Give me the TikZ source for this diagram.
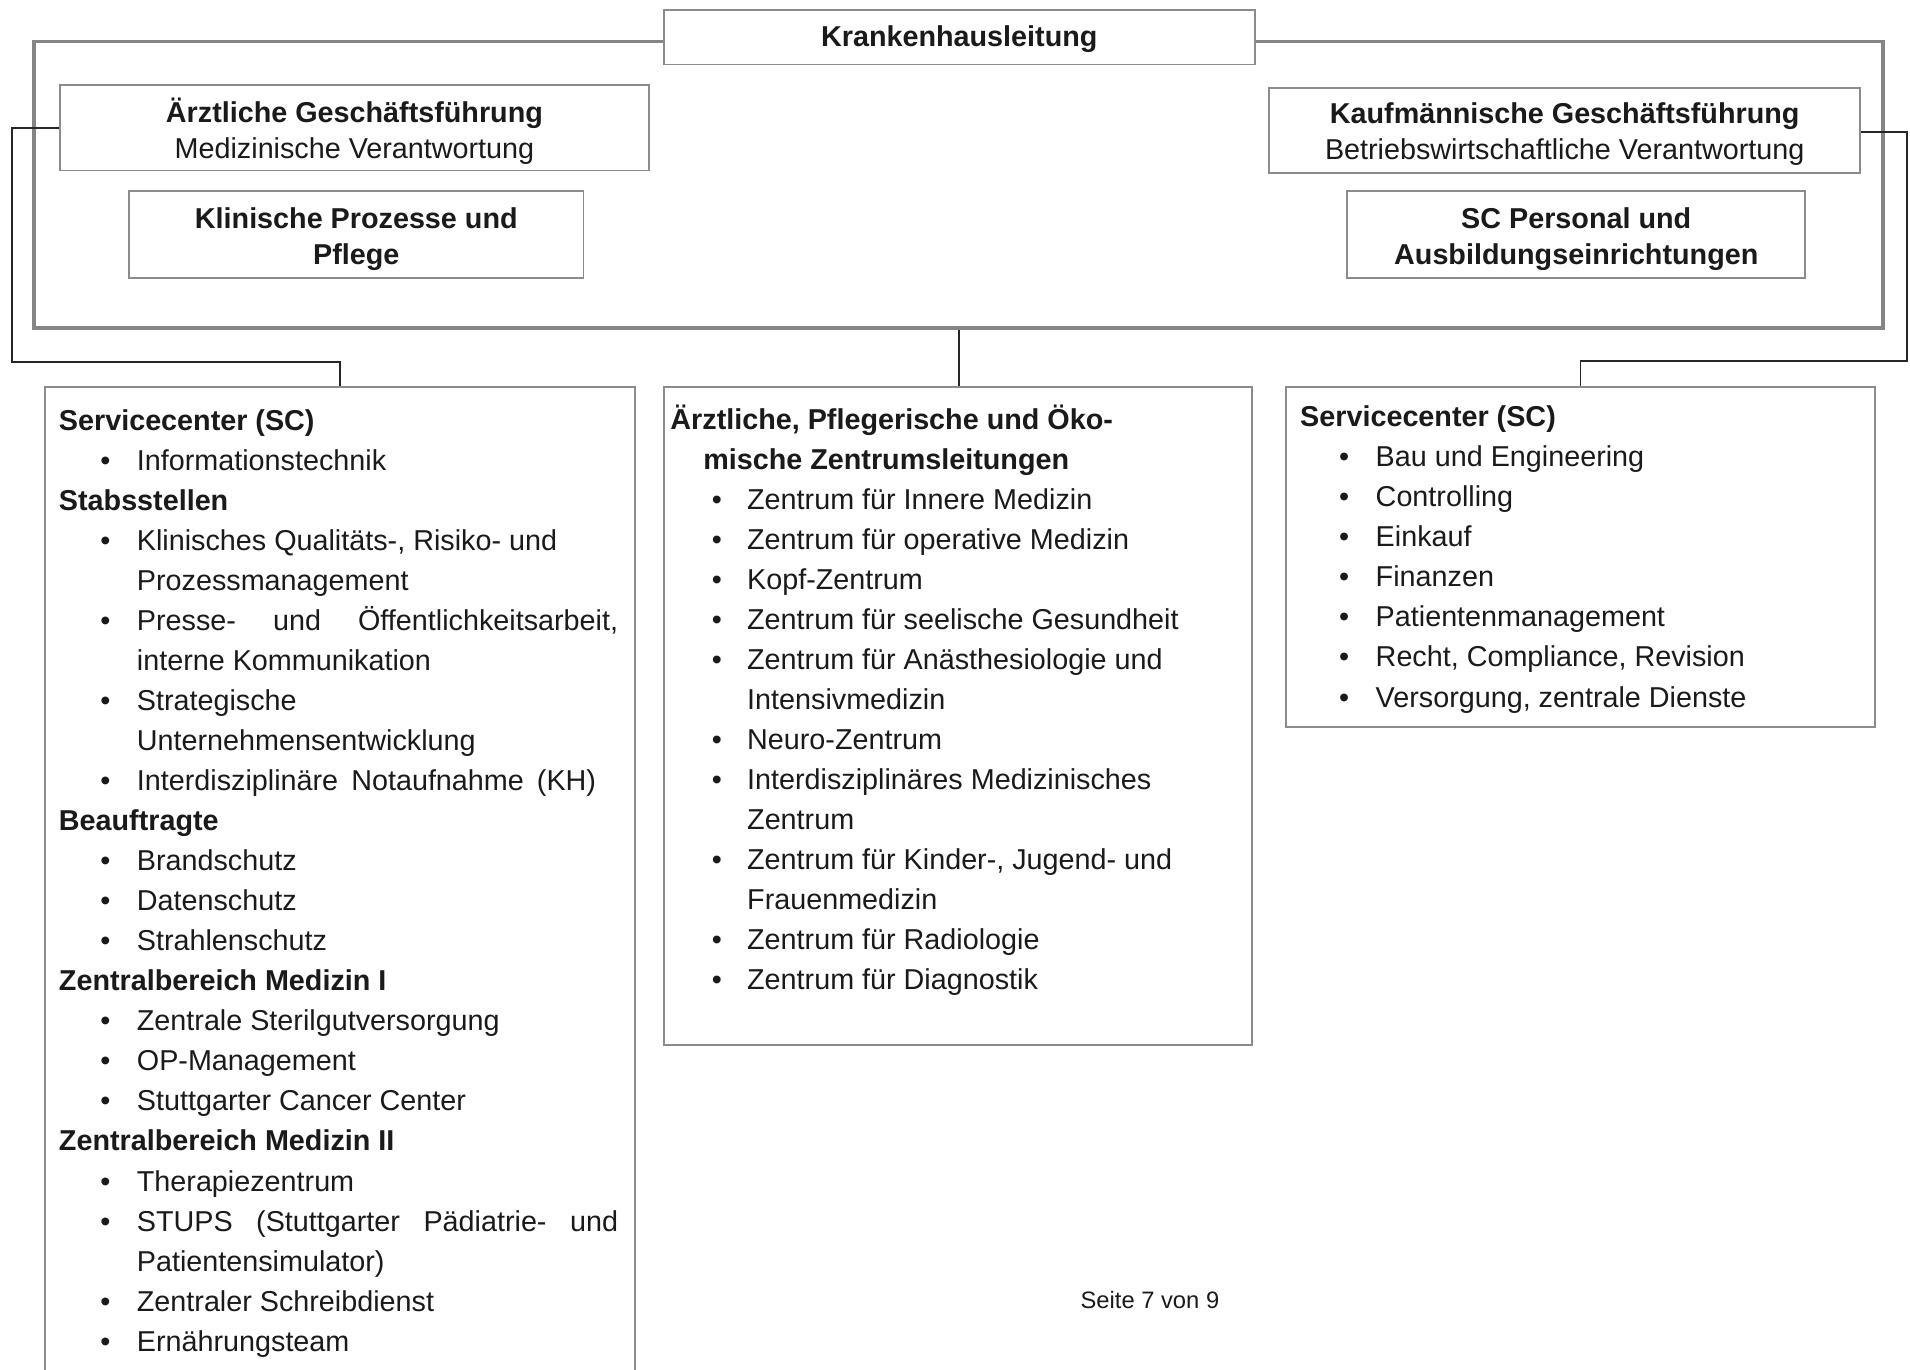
\documentclass[tikz,border=0pt]{standalone}
\usepackage{fontspec}
\setmainfont{Liberation Sans}
\usetikzlibrary{fit}
\definecolor{boxgray}{HTML}{8C8C8C}
\definecolor{outergray}{HTML}{858585}
\definecolor{conncol}{HTML}{262626}
\definecolor{textcol}{HTML}{1A1A1A}
\newcommand\bodyfont{\fontsize{11.8pt}{16.43pt}\selectfont}
\newcommand\topfont{\fontsize{11.8pt}{14.8pt}\selectfont}
\newcommand\bitem[3]{\makebox[#2][l]{\hspace*{#1}\textbullet}#3}
\newcommand\bL[1]{\bitem{17pt}{32pt}{#1}}
\newcommand\cL[1]{\hspace*{32pt}#1}
\newcommand\bM[1]{\bitem{17pt}{31.5pt}{#1}}
\newcommand\cM[1]{\hspace*{31.5pt}#1}
\newcommand\bR[1]{\bitem{16pt}{31pt}{#1}}
\begin{document}
\begin{tikzpicture}[x=0.5pt,y=-0.5pt,
  box/.style={draw=boxgray, line width=0.75pt, fill=white, inner sep=0pt},
  boxtext/.style={inner sep=0pt, align=center, font=\topfont, text=textcol, anchor=center},
  outerbox/.style={draw=outergray, line width=1.5pt, inner sep=0pt},
  listtext/.style={inner sep=0pt, align=left, font=\bodyfont, text=textcol, anchor=north west},
  conn/.style={draw=conncol, line width=0.8pt},
  pagenum/.style={font=\fontsize{9.75pt}{12pt}\selectfont, text=textcol, anchor=base, inner sep=0pt}]
\path[use as bounding box, fill=white] (0,0) rectangle (1568,1124);

% outer frame
\node[outerbox, fit={(28,34) (1546,269)}] (outer) {};

% top boxes
\node[box, fit={(545,8) (1030,53)}] (kh) {};
\node[box, fit={(49,70) (533,140)}] (aerzt) {};
\node[box, fit={(106,157) (479,228)}] (klin) {};
\node[box, fit={(1042,72) (1527,142)}] (kauf) {};
\node[box, fit={(1106,157) (1482,228)}] (scp) {};
\node[boxtext] (khT) at ([yshift=-1pt]kh.center) {\textbf{Krankenhausleitung}};
\node[boxtext] (aerztT) at ([yshift=-1.5pt]aerzt.center) {\textbf{Ärztliche Geschäftsführung}\\Medizinische Verantwortung};
\node[boxtext] (klinT) at ([yshift=-2pt]klin.center) {\textbf{Klinische Prozesse und}\\\textbf{Pflege}};
\node[boxtext] (kaufT) at ([yshift=-1.5pt]kauf.center) {\textbf{Kaufmännische Geschäftsführung}\\Betriebswirtschaftliche Verantwortung};
\node[boxtext] (scpT) at ([yshift=-2pt]scp.center) {\textbf{SC Personal und}\\\textbf{Ausbildungseinrichtungen}};

% lower boxes
\node[box, fit={(37,318) (521,1140)}] (lbox) {};
\node[box, fit={(545,318) (1028,858)}] (mbox) {};
\node[box, fit={(1056,318) (1539,597)}] (rbox) {};

% connectors
\coordinate (lbend) at (9.5,297);
\coordinate (rbend) at (1565.5,296);
\draw[conn] (aerzt.west) -| (lbend) -| (lbox.north);
\draw[conn] ([yshift=-0.5pt]kauf.east) -| (rbend) -| (rbox.north);
\draw[conn] (outer.south) -- (outer.south |- mbox.north);

% left list
\node[listtext] (ltext) at (48,330) {\strut\textbf{Servicecenter (SC)}\\
\bL{Informationstechnik}\\
\textbf{Stabsstellen}\\
\bL{Klinisches Qualitäts-, Risiko- und}\\
\cL{Prozessmanagement}\\
\bL{\makebox[197.5pt][s]{Presse- und Öffentlichkeitsarbeit,}}\\
\cL{interne Kommunikation}\\
\bL{Strategische}\\
\cL{Unternehmensentwicklung}\\
\bL{\makebox[188.5pt][s]{Interdisziplinäre Notaufnahme (KH)}}\\
\textbf{Beauftragte}\\
\bL{Brandschutz}\\
\bL{Datenschutz}\\
\bL{Strahlenschutz}\\
\textbf{Zentralbereich Medizin I}\\
\bL{Zentrale Sterilgutversorgung}\\
\bL{OP-Management}\\
\bL{Stuttgarter Cancer Center}\\
\textbf{Zentralbereich Medizin II}\\
\bL{Therapiezentrum}\\
\bL{\makebox[197.5pt][s]{STUPS (Stuttgarter Pädiatrie- und}}\\
\cL{Patientensimulator)}\\
\bL{Zentraler Schreibdienst}\\
\bL{Ernährungsteam}};

% middle list
\node[listtext] (mtext) at (550,329) {\strut\textbf{Ärztliche, Pflegerische und Öko-}\\
\hspace*{13.5pt}\textbf{mische Zentrumsleitungen}\\
\bM{Zentrum für Innere Medizin}\\
\bM{Zentrum für operative Medizin}\\
\bM{Kopf-Zentrum}\\
\bM{Zentrum für seelische Gesundheit}\\
\bM{Zentrum für Anästhesiologie und}\\
\cM{Intensivmedizin}\\
\bM{Neuro-Zentrum}\\
\bM{Interdisziplinäres Medizinisches}\\
\cM{Zentrum}\\
\bM{Zentrum für Kinder-, Jugend- und}\\
\cM{Frauenmedizin}\\
\bM{Zentrum für Radiologie}\\
\bM{Zentrum für Diagnostik}};

% right list
\node[listtext] (rtext) at (1067,327) {\strut\textbf{Servicecenter (SC)}\\
\bR{Bau und Engineering}\\
\bR{Controlling}\\
\bR{Einkauf}\\
\bR{Finanzen}\\
\bR{Patientenmanagement}\\
\bR{Recht, Compliance, Revision}\\
\bR{Versorgung, zentrale Dienste}};

\node[pagenum] (page) at (944,1074) {Seite 7 von 9};
\end{tikzpicture}
\end{document}
